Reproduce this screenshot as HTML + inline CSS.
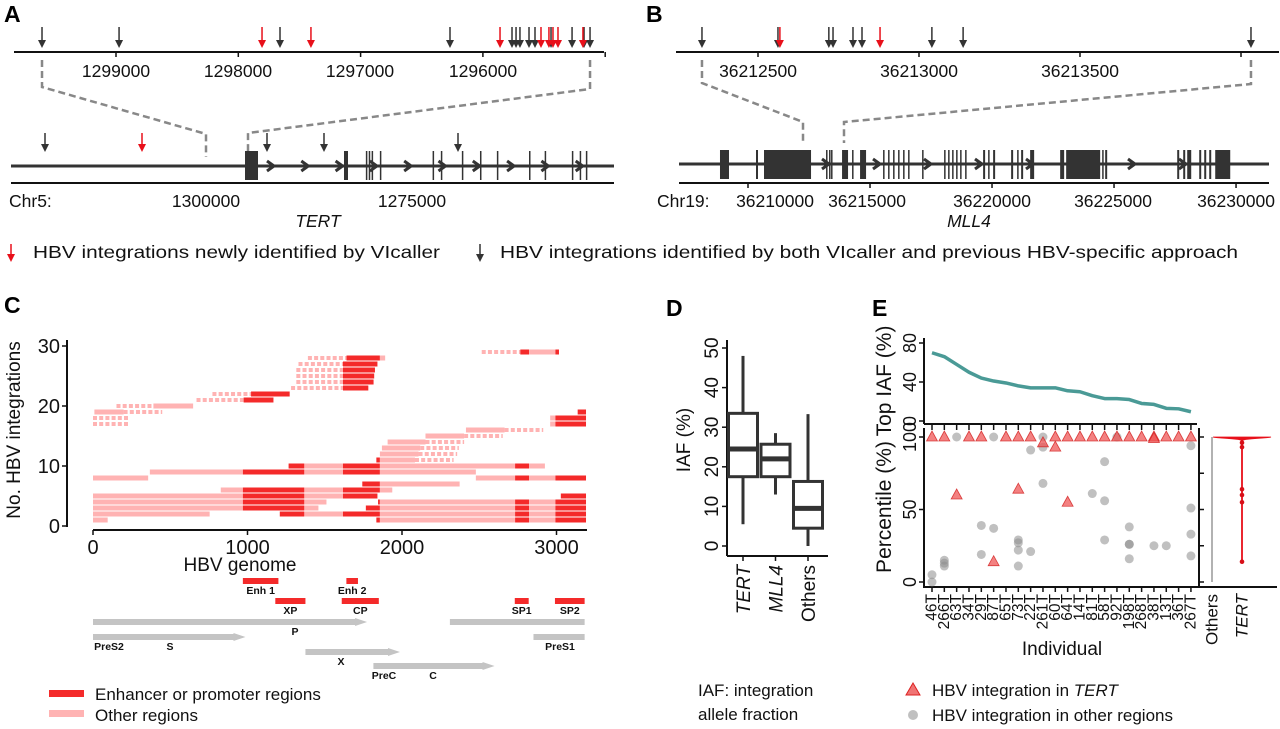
<!DOCTYPE html>
<html><head><meta charset="utf-8">
<style>
html,body{margin:0;padding:0;background:#fff;}
svg{display:block;font-family:"Liberation Sans",Arial,sans-serif;}
.pl{font-weight:bold;font-size:23px;fill:#000;}
.t{fill:#111;}
</style></head>
<body>
<svg id="fig" xmlns="http://www.w3.org/2000/svg" width="1280" height="729" viewBox="0 0 1280 729">
<text class="pl" x="4" y="22">A</text>
<text class="pl" x="646" y="22">B</text>
<text class="pl" x="4" y="313">C</text>
<text class="pl" x="666" y="316">D</text>
<text class="pl" x="872" y="316">E</text>

<g>
<line x1="11" y1="244" x2="11" y2="256" stroke="#e8101a" stroke-width="1.5"/>
<polygon points="7,254 15,254 11,262" fill="#e8101a"/>
<text class="t" x="33" y="258" font-size="17.5" textLength="407" lengthAdjust="spacingAndGlyphs">HBV integrations newly identified by VIcaller</text>
<line x1="480" y1="244" x2="480" y2="256" stroke="#333" stroke-width="1.5"/>
<polygon points="476,254 484,254 480,262" fill="#333"/>
<text class="t" x="500" y="258" font-size="17.5" textLength="738" lengthAdjust="spacingAndGlyphs">HBV integrations identified by both VIcaller and previous HBV-specific approach</text>
</g>

<g font-size="17.5" class="t">
<text x="116" y="77" text-anchor="middle">1299000</text>
<text x="238" y="77" text-anchor="middle">1298000</text>
<text x="360" y="77" text-anchor="middle">1297000</text>
<text x="483" y="77" text-anchor="middle">1296000</text>
<text x="9" y="207">Chr5:</text>
<text x="206" y="207" text-anchor="middle">1300000</text>
<text x="412" y="207" text-anchor="middle">1275000</text>
<text x="318" y="227" text-anchor="middle" font-style="italic">TERT</text>
</g>
<g font-size="17.5" class="t">
<text x="758" y="77" text-anchor="middle">36212500</text>
<text x="919" y="77" text-anchor="middle">36213000</text>
<text x="1080" y="77" text-anchor="middle">36213500</text>
<text x="657" y="207">Chr19:</text>
<text x="775" y="207" text-anchor="middle">36210000</text>
<text x="867" y="207" text-anchor="middle">36215000</text>
<text x="992" y="207" text-anchor="middle">36220000</text>
<text x="1113" y="207" text-anchor="middle">36225000</text>
<text x="1236" y="207" text-anchor="middle">36230000</text>
<text x="969" y="227" text-anchor="middle" font-style="italic">MLL4</text>
</g>

<g class="t">
<text transform="translate(20,430) rotate(-90)" text-anchor="middle" font-size="19">No. HBV integrations</text>
<text x="240" y="571" text-anchor="middle" font-size="19">HBV genome</text>
<rect x="49" y="690" width="35" height="7" fill="#f42a2a"/>
<text x="95" y="700" font-size="17">Enhancer or promoter regions</text>
<rect x="49" y="710" width="35" height="7" fill="#ffb3b3"/>
<text x="95" y="721" font-size="17">Other regions</text>
</g>

<g class="t">
<text transform="translate(690,440) rotate(-90)" text-anchor="middle" font-size="19">IAF (%)</text>
<text x="698" y="696" font-size="17">IAF: integration</text>
<text x="698" y="720" font-size="17">allele fraction</text>
</g>

<g class="t">
<text transform="translate(891,381) rotate(-90)" text-anchor="middle" font-size="21">Top IAF (%)</text>
<text transform="translate(891,507) rotate(-90)" text-anchor="middle" font-size="21">Percentile (%)</text>
<text x="1062" y="655" text-anchor="middle" font-size="19">Individual</text>
<polygon points="913,683 920,695 906,695" fill="rgba(235,70,70,0.75)" stroke="#d22" stroke-width="1"/>
<text x="932" y="696" font-size="17">HBV integration in <tspan font-style="italic">TERT</tspan></text>
<circle cx="913" cy="715" r="5" fill="rgba(150,150,150,0.6)"/>
<text x="932" y="721" font-size="17">HBV integration in other regions</text>
</g>
</svg>
<script>
// ---------- DATA ----------
const aZoomBlack = [1299605,1298975,1297659,1296269,1295762,1295729,1295697,1295623,1295574,1295443,1295271,1295173,1295124];
const aZoomRed = [1297806,1297406,1295860,1295525,1295460,1295427,1295386,1295182];
const aGeneBlack = [1319539,1292597,1285680,1269417];
const aGeneRed = [1307767];
const tertExons = [[1295267,1293689],[1295267,1295150],[1294950,1294850],[1283252,1282767],[1280600,1280500],[1280250,1280150],[1279900,1279800],[1278900,1278800],[1272500,1272400],[1271500,1271400],[1268950,1268850],[1266750,1266650],[1264700,1264600],[1260800,1260700],[1258900,1258800],[1255600,1255500],[1254650,1254550],[1253900,1253800]];
const aZoomTicks = [1299000,1298000,1297000,1296000,1295000];
const bZoomBlack = [36212326,36212562,36212720,36212733,36212795,36212823,36213040,36213137,36214031];
const bZoomRed = [36212568,36212879];
const bZoomTicks = [36212500,36213000,36213500,36214000];
const mll4Base = 36210000;
const mll4ExonOffsets = [[-1148,-779],[328,410],[656,2583],[3198,3239],[3321,3362],[3403,3444],[3854,4100],[4264,4305],[4592,4838],[5535,5576],[5740,5781],[5945,5986],[6150,6191],[6355,6396],[6560,6601],[7134,7175],[8036,8077],[8200,8241],[8364,8405],[8528,8569],[8692,8733],[8897,8938],[9635,9717],[9840,9881],[10045,10127],[10783,10865],[11029,11070],[11193,11275],[11562,11726],[12792,12956],[13038,14432],[14514,14555],[14637,14719],[17589,17671],[17835,17917],[17999,18163],[18491,18573],[18696,18778],[18901,18983],[19147,19762]];
const bGeneTicks = [36210000,36215000,36220000,36225000,36230000];
const cRows = [
 [[0,95,'L'],[1834,1857,'D'],[1857,2732,'L'],[2732,2823,'D'],[2823,2993,'L'],[2993,3191,'D']],
 [[0,755,'L'],[1209,1368,'D'],[1368,1618,'L'],[1618,1857,'D'],[1857,2732,'L'],[2732,2823,'D'],[2823,2993,'L'],[2993,3191,'D']],
 [[0,970,'L'],[970,1368,'D'],[1368,1459,'L'],[1766,1857,'D'],[1857,2732,'L'],[2732,2823,'D'],[2823,2993,'L'],[2993,3191,'D']],
 [[0,970,'L'],[970,1368,'D'],[1368,1511,'L'],[1845,1857,'D'],[1857,2732,'L'],[2732,2823,'D'],[2823,2993,'L'],[2993,3191,'D']],
 [[0,970,'L'],[970,1368,'D'],[1368,1618,'L'],[1618,1841,'D'],[3028,3191,'D']],
 [[827,970,'L'],[970,1368,'D'],[1368,1618,'L'],[1618,1857,'D'],[1857,1937,'L']],
 [[1743,1857,'D'],[1857,2373,'L']],
 [[0,357,'L'],[2478,2732,'L'],[2732,2823,'D'],[2823,2993,'L'],[2993,3191,'D']],
 [[368,970,'L'],[970,1368,'D'],[1368,1618,'L'],[1618,1857,'D'],[1857,2478,'L']],
 [[1266,1368,'D'],[1368,1618,'L'],[1618,1857,'D'],[1857,2732,'L'],[2732,2823,'D'],[2823,2925,'L']],
 [[1834,1857,'D'],[1857,2084,'L'],[2084,2334,'S']],
 [[1857,2107,'L'],[2107,2357,'S']],
 [[1870,2118,'L'],[2118,2368,'S']],
 [[1907,2152,'L'],[2152,2402,'S']],
 [[2152,2402,'L'],[2402,2652,'S']],
 [[2414,2664,'L'],[2664,2914,'S']],
 [[0,239,'S'],[2959,2993,'L'],[2993,3191,'D']],
 [[0,239,'S'],[2959,2993,'L'],[2993,3191,'D']],
 [[9,198,'L'],[198,448,'S'],[3137,3191,'D']],
 [[152,391,'S'],[391,648,'L']],
 [[670,975,'S'],[975,1168,'D']],
 [[773,1023,'S'],[1023,1273,'D']],
 [[1282,1618,'S'],[1618,1782,'D']],
 [[1316,1618,'S'],[1618,1816,'D']],
 [[1316,1618,'S'],[1618,1820,'D']],
 [[1316,1618,'S'],[1618,1825,'D']],
 [[1330,1618,'S'],[1618,1841,'D']],
 [[1391,1641,'S'],[1641,1857,'D'],[1857,1891,'L']],
 [[2516,2766,'S'],[2766,2823,'D'],[2823,2993,'L'],[2993,3016,'D']]
];
const cXTicks = [0,1000,2000,3000];
const cYTicks = [0,10,20,30];
const hbvRegions = [[970,1200,'Enh 1',0],[1640,1715,'Enh 2',0],[1180,1375,'XP',1],[1610,1850,'CP',1],[2730,2820,'SP1',1],[2990,3182,'SP2',1]];
const hbvGenes = [[0,1774,'P',0],[2310,3182,'',0],[0,987,'S',1],[2851,3182,'PreS1',1],[1375,1987,'X',2],[1815,2599,'C',3]];
const dGroups = ['TERT','MLL4','Others'];
const dMin = [5.5,13,0];
const dQ1 = [17.5,17.5,4.5];
const dMed = [24.5,22,9.5];
const dQ3 = [33.5,25.7,16.3];
const dMax = [48,28.5,33.3];
const dYTicks = [0,10,20,30,40,50];
const eIndividuals = ['46T','266T','63T','34T','29T','87T','65T','73T','22T','261T','60T','64T','14T','81T','58T','92T','198T','268T','38T','13T','36T','267T'];
const eTopIAF = [70,66,58,50,44,41,39,36,34,34,34,31,30,26,23,23,22,18,17,13,12.5,9.5];
const eTertIdx = [0,1,3,4,6,7,8,10,11,12,13,14,15,16,17,18,18,19,20,21,9,10,2,7,5,11];
const eTertVal = [100,100,100,100,100,100,100,100,100,100,100,100,100,100,100,100,99,100,100,100,96,93,60,64,14,55];
const eOtherIdx = [0,0,1,1,1,2,4,4,5,5,7,7,7,7,8,8,9,9,9,13,14,14,14,15,16,16,16,16,18,19,21,21,21,21];
const eOtherVal = [5,0,15,13,11,100,39,19,100,37,29,27,22,11,91,21,100,93,68,61,83,56,29,100,38,26,26,16,25,25,94,51,33,18];
const eTopTicks = [0,40,80];
const eBotTicks = [0,50,100];

// ---------- HELPERS ----------
const NS='http://www.w3.org/2000/svg';
const svg=document.getElementById('fig');
function mk(tag, attrs, name, parent){
  const e=document.createElementNS(NS,tag);
  for(const k in attrs) e.setAttribute(k,attrs[k]);
  
  
  (parent||svg).appendChild(e);
  return e;
}
function arrow(x,y1,y2,col,name){
  mk('line',{x1:x,y1:y1,x2:x,y2:y2-6,stroke:col,'stroke-width':1.5},name+'-shaft');
  mk('polygon',{points:`${x-4},${y2-8} ${x+4},${y2-8} ${x},${y2}`,fill:col},name+'-head');
}
function txt(x,y,s,attrs,name){const t=mk('text',Object.assign({x:x,y:y,fill:'#111'},attrs),name);t.textContent=s;return t;}
const RED='#e8101a', BLK='#333';

// ---------- PANEL A ----------
const xAT=p=>116+(1299000-p)*0.1223;
const xAB=p=>206+(1300000-p)/121.36;
mk('line',{x1:14,y1:52,x2:604,y2:52,stroke:'#111','stroke-width':2},'a-zoom-axis');
aZoomTicks.forEach(t=>mk('line',{x1:xAT(t),y1:52,x2:xAT(t),y2:57,stroke:'#111','stroke-width':1.5},'a-zoom-tick'));
aZoomBlack.forEach(p=>arrow(xAT(p),27,48,BLK,'a-zoom-arrow-black'));
aZoomRed.forEach(p=>arrow(xAT(p),27,48,RED,'a-zoom-arrow-red'));
mk('polyline',{points:`${xAT(aZoomBlack[0])},60 ${xAT(aZoomBlack[0])},87 ${xAB(1300000)},134 ${xAB(1300000)},157`,fill:'none',stroke:'#888','stroke-width':2.5,'stroke-dasharray':'7 4'},'a-zoom-connector-left');
mk('polyline',{points:`${xAT(1295124)},60 ${xAT(1295124)},89 248,133 248,152`,fill:'none',stroke:'#888','stroke-width':2.5,'stroke-dasharray':'7 4'},'a-zoom-connector-right');
mk('line',{x1:11,y1:166,x2:614,y2:166,stroke:BLK,'stroke-width':3},'tert-gene-line');
tertExons.forEach(e=>{const a=xAB(e[0]),b=xAB(e[1]);mk('rect',{x:Math.min(a,b),y:151,width:Math.max(1.5,Math.abs(b-a)),height:29,fill:BLK},'tert-exon');});
for(let i=0;i<10;i++){const x=271+i*34.3;mk('polyline',{points:`${x-4},161 ${x+3},166 ${x-4},171`,fill:'none',stroke:BLK,'stroke-width':3},'tert-strand-chevron');}
mk('line',{x1:11,y1:183,x2:614,y2:183,stroke:'#111','stroke-width':2},'a-gene-axis');
aGeneBlack.forEach(p=>arrow(xAB(p),133,152,BLK,'a-gene-arrow-black'));
aGeneRed.forEach(p=>arrow(xAB(p),133,152,RED,'a-gene-arrow-red'));

// ---------- PANEL B ----------
const xBT=p=>758+(p-36212500)*0.322;
const xBB=p=>748+(p-36210000)/40.98;
mk('line',{x1:676,y1:52,x2:1279,y2:52,stroke:'#111','stroke-width':2},'b-zoom-axis');
bZoomTicks.forEach(t=>mk('line',{x1:xBT(t),y1:52,x2:xBT(t),y2:57,stroke:'#111','stroke-width':1.5},'b-zoom-tick'));
bZoomBlack.forEach(p=>arrow(xBT(p),27,48,BLK,'b-zoom-arrow-black'));
bZoomRed.forEach(p=>arrow(xBT(p),27,48,RED,'b-zoom-arrow-red'));
mk('polyline',{points:`${xBT(bZoomBlack[0])},60 ${xBT(bZoomBlack[0])},83 803,122 803,143`,fill:'none',stroke:'#888','stroke-width':2.5,'stroke-dasharray':'7 4'},'b-zoom-connector-left');
mk('polyline',{points:`${xBT(36214031)},60 ${xBT(36214031)},84 844,122 844,143`,fill:'none',stroke:'#888','stroke-width':2.5,'stroke-dasharray':'7 4'},'b-zoom-connector-right');
mk('line',{x1:679,y1:164,x2:1269,y2:164,stroke:BLK,'stroke-width':3},'mll4-gene-line');
mll4ExonOffsets.forEach(e=>{const a=xBB(mll4Base+e[0]),b=xBB(mll4Base+e[1]);mk('rect',{x:a,y:150,width:Math.max(1.5,b-a),height:29,fill:BLK},'mll4-exon');});
[826,877,928,979,1030,1132,1183].forEach(x=>mk('polyline',{points:`${x-4},159 ${x+3},164 ${x-4},169`,fill:'none',stroke:BLK,'stroke-width':3},'mll4-strand-chevron'));
mk('line',{x1:679,y1:183,x2:1269,y2:183,stroke:'#111','stroke-width':2},'b-gene-axis');
bGeneTicks.forEach(t=>mk('line',{x1:xBB(t),y1:183,x2:xBB(t),y2:188,stroke:'#111','stroke-width':1.5},'b-gene-tick'));

// ---------- PANEL C ----------
const xC=h=>93+h*0.1545;
const yC=i=>526-(i+1)*6;
cRows.forEach((row,i)=>{
  row.forEach(s=>{
    const x0=xC(s[0]),x1=xC(s[1]),y=yC(i)-2.5;
    if(s[2]==='S'){
      for(let x=x0;x<x1-1;x+=6.2) mk('rect',{x:x,y:y+0.5,width:Math.min(4,x1-x),height:4,fill:'#ffb3b3'},'c-breakpoint-dot');
    } else {
      mk('rect',{x:x0,y:y,width:x1-x0,height:5,fill:s[2]==='D'?'#f42a2a':'#ffb3b3'},s[2]==='D'?'c-segment-enhancer':'c-segment-other');
    }
  });
});
mk('line',{x1:67,y1:340,x2:67,y2:527,stroke:'#111','stroke-width':2},'c-y-axis');
cYTicks.forEach(t=>{const y=526-t*6;mk('line',{x1:62,y1:y,x2:67,y2:y,stroke:'#111','stroke-width':1.5},'c-y-tick');txt(60,y+7,String(t),{'font-size':20,'text-anchor':'end'},'c-y-tick-label');});
mk('line',{x1:93,y1:530,x2:587,y2:530,stroke:'#111','stroke-width':2},'c-x-axis');
cXTicks.forEach(t=>{const x=xC(t);mk('line',{x1:x,y1:530,x2:x,y2:535,stroke:'#111','stroke-width':1.5},'c-x-tick');txt(x,554,String(t),{'font-size':20,'text-anchor':'middle'},'c-x-tick-label');});
const regY=[578,598];
hbvRegions.forEach(r=>{const y=regY[r[3]];mk('rect',{x:xC(r[0]),y:y,width:xC(r[1])-xC(r[0]),height:6,fill:'#f42a2a'},'hbv-regulatory-region');txt((xC(r[0])+xC(r[1]))/2,y+16,r[2],{'font-size':10.5,'font-weight':'bold','text-anchor':'middle'},'hbv-region-label');});
const geneY=[619,634,649,663];
hbvGenes.forEach(g=>{const y=geneY[g[3]],x0=xC(g[0]),x1=xC(g[1]);
  if(g[1]>3100){mk('rect',{x:x0,y:y,width:x1-x0,height:6,fill:'#c4c4c4'},'hbv-gene-bar');}
  else{mk('polygon',{points:`${x0},${y} ${x1-12},${y} ${x1-12},${y-1} ${x1},${y+3} ${x1-12},${y+7} ${x1-12},${y+6} ${x0},${y+6}`,fill:'#c4c4c4'},'hbv-gene-arrow');}
});
[['P',295,635],['PreS2',109,650],['S',170,650],['PreS1',560,650],['X',341,665],['PreC',384,679],['C',433,679]].forEach(l=>txt(l[1],l[2],l[0],{'font-size':10.5,'font-weight':'bold','text-anchor':'middle'},'hbv-gene-label'));

// ---------- PANEL D ----------
const yD=v=>546-v*3.96;
const xD=i=>743+i*32.5;
mk('line',{x1:727,y1:340,x2:727,y2:556,stroke:'#111','stroke-width':2},'d-y-axis');
dYTicks.forEach(t=>{const y=yD(t);mk('line',{x1:722,y1:y,x2:727,y2:y,stroke:'#111','stroke-width':1.5},'d-y-tick');txt(0,0,String(t),{'font-size':19,'text-anchor':'middle',transform:`translate(718,${y}) rotate(-90)`},'d-y-tick-label');});
mk('line',{x1:727,y1:556,x2:828,y2:556,stroke:'#111','stroke-width':2},'d-x-axis');
dGroups.forEach((g,i)=>{const x=xD(i),w=25;
  mk('line',{x1:x,y1:yD(dMax[i]),x2:x,y2:yD(dQ3[i]),stroke:BLK,'stroke-width':3},'d-whisker-upper');
  mk('line',{x1:x,y1:yD(dQ1[i]),x2:x,y2:yD(dMin[i]),stroke:BLK,'stroke-width':3},'d-whisker-lower');
  mk('rect',{x:x-w/2-2,y:yD(dQ3[i]),width:w+4,height:yD(dQ1[i])-yD(dQ3[i]),fill:'#fff',stroke:BLK,'stroke-width':3},'d-box-'+g.toLowerCase());
  mk('line',{x1:x-w/2-2,y1:yD(dMed[i]),x2:x+w/2+2,y2:yD(dMed[i]),stroke:BLK,'stroke-width':5},'d-median');
  mk('line',{x1:x,y1:556,x2:x,y2:561,stroke:'#111','stroke-width':1.5},'d-x-tick');
  txt(0,0,g,{'font-size':19,'text-anchor':'end','font-style':i<2?'italic':'normal',transform:`translate(${x+7},565) rotate(-90)`},'d-x-tick-label');
});

// ---------- PANEL E ----------
const xE=i=>932+i*12.33;
const yET=v=>421-v*0.975;
const yEB=v=>582-v*1.45;
mk('line',{x1:924,y1:338,x2:924,y2:424,stroke:'#111','stroke-width':2},'e-top-y-axis');
mk('line',{x1:924,y1:424,x2:1197,y2:424,stroke:'#111','stroke-width':2},'e-top-x-axis');
eTopTicks.forEach(t=>{const y=yET(t);mk('line',{x1:919,y1:y,x2:924,y2:y,stroke:'#111','stroke-width':1.5},'e-top-y-tick');txt(0,0,String(t),{'font-size':18,'text-anchor':'middle',transform:`translate(916,${y}) rotate(-90)`},'e-top-y-tick-label');});
mk('polyline',{points:eTopIAF.map((v,i)=>`${xE(i)},${yET(v)}`).join(' '),fill:'none',stroke:'#4a9a96','stroke-width':3.5,'stroke-linejoin':'round'},'e-top-iaf-line');
mk('polyline',{points:`924,428 924,587 1199,587 1199,428`,fill:'none',stroke:'#111','stroke-width':2},'e-scatter-frame');
eBotTicks.forEach(t=>{const y=yEB(t);mk('line',{x1:919,y1:y,x2:924,y2:y,stroke:'#111','stroke-width':1.5},'e-bottom-y-tick');txt(0,0,String(t),{'font-size':18,'text-anchor':'middle',transform:`translate(916,${y}) rotate(-90)`},'e-bottom-y-tick-label');});
eIndividuals.forEach((n,i)=>{const x=xE(i);
  mk('line',{x1:x,y1:424,x2:x,y2:430,stroke:'#111','stroke-width':1.5},'e-top-x-tick');
  mk('line',{x1:x,y1:587,x2:x,y2:592,stroke:'#111','stroke-width':1.5},'e-x-tick');
  txt(0,0,n,{'font-size':15.5,'text-anchor':'end','dominant-baseline':'central',transform:`translate(${x},594) rotate(-90)`},'e-individual-label');
});
eOtherIdx.forEach((ix,k)=>mk('circle',{cx:xE(ix),cy:yEB(eOtherVal[k]),r:4.5,fill:'rgba(140,140,140,0.55)'},'e-other-point'));
eTertIdx.forEach((ix,k)=>{const x=xE(ix),y=yEB(eTertVal[k]);mk('polygon',{points:`${x},${y-6} ${x+5.5},${y+4} ${x-5.5},${y+4}`,fill:'rgba(238,80,80,0.72)',stroke:'rgba(210,30,30,0.8)','stroke-width':0.8},'e-tert-point');});
mk('line',{x1:1199,y1:587,x2:1277,y2:587,stroke:'#111','stroke-width':2},'e-violin-x-axis');
[0,25,50,75,100].forEach(t=>mk('line',{x1:1199,y1:yEB(t),x2:1204,y2:yEB(t),stroke:'#111','stroke-width':1.5},'e-violin-y-tick'));
mk('line',{x1:1212,y1:yEB(100),x2:1212,y2:yEB(0),stroke:'#999','stroke-width':1.5},'e-violin-others');
(function(){
  const bw=0.8;let mx=0;const ds=[];
  for(let v=100;v>=Math.min(...eTertVal)-1;v-=0.25){let d=0;eTertVal.forEach(u=>d+=Math.exp(-0.5*((v-u)/bw)**2));ds.push([v,d]);mx=Math.max(mx,d);}
  const cx=1242,hw=29;
  const L=ds.map(p=>`${cx-Math.max(0.5,p[1]/mx*hw)},${yEB(p[0])}`),R=ds.map(p=>`${cx+Math.max(0.5,p[1]/mx*hw)},${yEB(p[0])}`).reverse();
  mk('polygon',{points:L.concat(R).join(' '),fill:'#e8101a',stroke:'#e8101a','stroke-width':0.8},'e-violin-tert');
  eTertVal.filter(v=>v<99).forEach(v=>mk('circle',{cx:cx,cy:yEB(v),r:2.3,fill:'#d80f18'},'e-violin-tert-point'));
})();
txt(0,0,'Others',{'font-size':17,'text-anchor':'end','dominant-baseline':'central',transform:'translate(1212,594) rotate(-90)'},'e-violin-others-label');
txt(0,0,'TERT',{'font-size':17,'text-anchor':'end','font-style':'italic','dominant-baseline':'central',transform:'translate(1242,594) rotate(-90)'},'e-violin-tert-label');
</script>
</body></html>
